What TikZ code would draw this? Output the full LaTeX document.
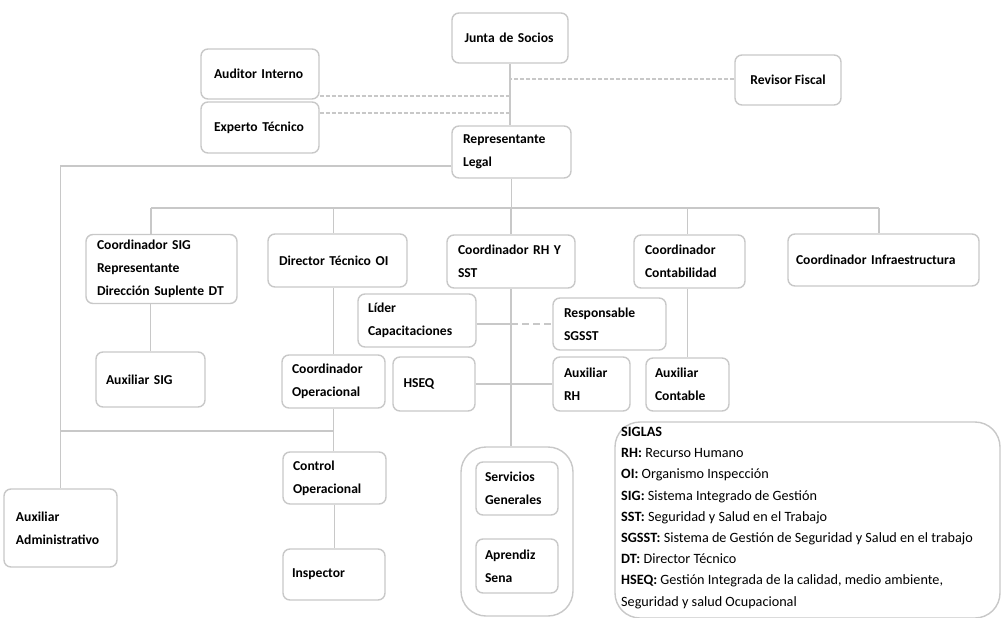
\documentclass[tikz,border=0pt]{standalone}
\usepackage{fontspec}
\setmainfont{Carlito}
\definecolor{lineagris}{RGB}{200,200,200}
\definecolor{bordegris}{RGB}{200,200,200}
\tikzset{
  cargo/.style={draw=bordegris, line width=1.4pt, rounded corners=7pt, fill=white,
    align=left, inner ysep=0pt, font=\bfseries\fontsize{13.6}{23}\selectfont},
  linea/.style={draw=lineagris, line width=1.6pt},
  punteada/.style={linea, line width=1.4pt, dash pattern=on 4pt off 2pt},
  puntgruesa/.style={linea, line width=2pt, dash pattern=on 7pt off 4pt}
}
\begin{document}
\begin{tikzpicture}[x=1pt,y=-1pt]
\useasboundingbox (0,0) rectangle (1002,618);
\node[cargo, minimum height=50pt, text width=91pt, inner xsep=12.5pt] (junta) at (510,38) {Junta de Socios};
\node[cargo, minimum height=50pt, text width=92pt, inner xsep=13pt] (auditor) at (260,74) {Auditor Interno};
\node[cargo, minimum height=51pt, text width=92pt, inner xsep=13pt] (experto) at (260,127.5) {Experto Técnico};
\node[cargo, align=center, minimum width=106pt, minimum height=50pt] (revisor) at (788,80) {Revisor Fiscal};
\node[cargo, minimum height=52pt, text width=97pt, inner xsep=11pt] (replegal) at (511.5,152) {Representante\\Legal};
\node[cargo, minimum height=69pt, text width=129pt, inner xsep=11pt] (coordsig) at (161.5,269) {Coordinador SIG\\Representante\\Dirección Suplente DT};
\node[cargo, minimum height=53pt, text width=117pt, inner xsep=11pt] (director) at (337.5,260.5) {Director Técnico OI};
\node[cargo, minimum height=53pt, text width=106pt, inner xsep=11pt] (coordrh) at (511,261.5) {Coordinador RH Y\\SST};
\node[cargo, minimum height=53pt, text width=89pt, inner xsep=11pt] (coordcont) at (689.5,261.5) {Coordinador\\Contabilidad};
\node[cargo, minimum height=52pt, text width=175pt, inner xsep=8pt] (coordinfra) at (883.5,260) {Coordinador Infraestructura};
\node[cargo, minimum height=53pt, text width=98pt, inner xsep=10pt] (lider) at (417,320.5) {Líder\\Capacitaciones};
\node[cargo, minimum height=52pt, text width=91pt, inner xsep=11pt] (responsable) at (609.5,324) {Responsable\\SGSST};
\node[cargo, minimum height=55pt, text width=89pt, inner xsep=10pt] (auxsig) at (150.5,379.5) {Auxiliar SIG};
\node[cargo, minimum height=53pt, text width=83pt, inner xsep=10pt] (coordop) at (333.5,381.5) {Coordinador\\Operacional};
\node[cargo, minimum height=54pt, text width=61pt, inner xsep=10.5pt] (hseq) at (434,384) {HSEQ};
\node[cargo, minimum height=54pt, text width=55pt, inner xsep=11pt] (auxrh) at (591.5,384) {Auxiliar\\RH};
\node[cargo, minimum height=53pt, text width=65pt, inner xsep=9pt] (auxcont) at (687.5,384.5) {Auxiliar\\Contable};
\node[cargo, minimum height=52pt, text width=83pt, inner xsep=10pt] (control) at (334.5,478) {Control\\Operacional};
\node[cargo, minimum height=51pt, text width=84pt, inner xsep=9pt] (inspector) at (334,574.5) {Inspector};
\node[cargo, minimum height=78pt, text width=89pt, inner xsep=12pt] (auxadm) at (60.5,528) {Auxiliar\\Administrativo};
\node[cargo, rounded corners=25pt, minimum width=112pt, minimum height=169pt, inner sep=0pt] (grupo) at (517,531.5) {};
\node[cargo, minimum height=53pt, text width=64pt, inner xsep=9pt] (servicios) at (517,488.5) {Servicios\\Generales};
\node[cargo, minimum height=54pt, text width=64pt, inner xsep=9pt] (aprendiz) at (517,566) {Aprendiz\\Sena};
\node[cargo, rounded corners=25pt, minimum width=385pt, minimum height=196pt, inner sep=0pt] (siglas) at (807.5,520) {};
\node[anchor=north west, align=left, inner sep=0pt, font=\fontsize{14.2}{21.2}\selectfont] (siglastexto) at (621,427) {\textbf{SIGLAS}\\
\textbf{RH:} Recurso Humano\\
\textbf{OI:} Organismo Inspección\\
\textbf{SIG:} Sistema Integrado de Gestión\\
\textbf{SST:} Seguridad y Salud en el Trabajo\\
\textbf{SGSST:} Sistema de Gestión de Seguridad y Salud en el trabajo\\
\textbf{DT:} Director Técnico\\
\textbf{HSEQ:} Gestión Integrada de la calidad, medio ambiente,\\
Seguridad y salud Ocupacional};
\coordinate (busizq) at (151,208);
\coordinate (busder) at (879,208);
\draw[linea] (junta.south) -- (junta.south |- replegal.north);
\draw[punteada] (revisor.west |- 0,79) -- (junta.south |- 0,79);
\draw[punteada] (auditor.east |- 0,96) -- (junta.south |- 0,96);
\draw[punteada] (experto.east |- 0,113) -- (junta.south |- 0,113);
\draw[linea] (replegal.west |- 0,166) -| (auxadm.north);
\draw[linea] (auxadm.north |- 0,431) -- (coordop.south |- 0,431);
\draw[linea] (replegal.south) -- (replegal.south |- busizq);
\draw[linea] (busizq) -- (busder);
\draw[linea] (busizq) -- (busizq |- coordsig.north);
\draw[linea] (auxsig.north |- coordsig.south) -- (auxsig.north);
\draw[linea] (coordop.north |- busizq) -- (coordop.north |- director.north);
\draw[linea] (coordop.north |- director.south) -- (coordop.north);
\draw[linea] (coordop.south) -- (coordop.south |- control.north);
\draw[linea] (control.south) -- (control.south |- inspector.north);
\draw[linea] (coordrh.north |- busizq) -- (coordrh.north);
\draw[linea] (coordrh.south) -- (coordrh.south |- grupo.north);
\draw[linea] (auxcont.north |- busizq) -- (auxcont.north |- coordcont.north);
\draw[linea] (auxcont.north |- coordcont.south) -- (auxcont.north);
\draw[linea] (busder) -- (busder |- coordinfra.north);
\draw[linea] (lider.east |- responsable.west) -- (coordrh.south |- responsable.west);
\draw[puntgruesa] (coordrh.south |- responsable.west) -- (responsable.west);
\draw[linea] (hseq.east) -- (auxrh.west);
\end{tikzpicture}
\end{document}
